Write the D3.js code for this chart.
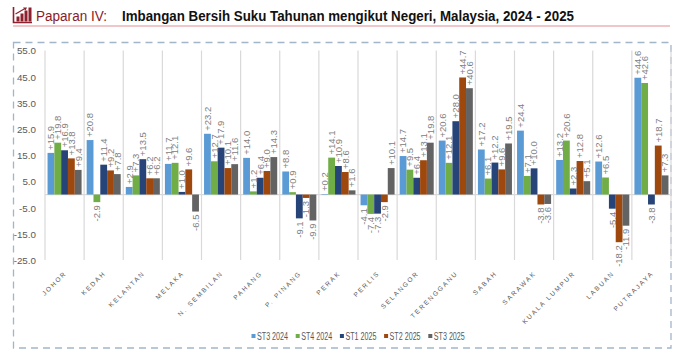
<!DOCTYPE html>
<html>
<head>
<meta charset="utf-8">
<script src="https://cdn.jsdelivr.net/npm/d3@7"></script>
<style>
  html, body { margin: 0; padding: 0; background: #ffffff; }
  svg { display: block; }
</style>
</head>
<body>
<svg id="chart" width="687" height="360"></svg>
<script>
// ---------- DATA ----------
const states = ["JOHOR","KEDAH","KELANTAN","MELAKA","N. SEMBILAN","PAHANG","P. PINANG","PERAK","PERLIS","SELANGOR","TERENGGANU","SABAH","SARAWAK","KUALA LUMPUR","LABUAN","PUTRAJAYA"];
const seriesNames = ["ST3 2024","ST4 2024","ST1 2025","ST2 2025","ST3 2025"];
const st3_2024 = [15.9, 20.8, 2.9, 11.7, 23.2, 14.0, 8.8, 0.2, -4.1, 14.7, 20.6, 17.2, 24.4, 13.2, 12.6, 44.6];
const st4_2024 = [19.8, -2.9, 7.3, 12.1, 12.7, 1.2, 0.9, 14.1, -7.4, 9.5, 12.1, 6.1, 7.1, 20.6, 6.5, 42.6];
const st1_2025 = [16.9, 11.4, 13.5, 1.0, 17.9, 6.4, -9.1, 10.9, -7.3, 6.4, 28.0, 12.2, 10.0, 2.3, -5.4, -3.8];
const st2_2025 = [13.8, 9.2, 6.2, 9.6, 10.1, 9.0, -1.3, 8.6, -2.9, 13.1, 44.7, 9.6, -3.8, 12.8, -18.2, 18.7];
const st3_2025 = [9.4, 7.8, 6.2, -6.5, 11.6, 14.3, -9.9, 1.6, 10.1, 19.8, 40.6, 19.5, -3.6, 5.1, -11.9, 7.3];
const yTicks = [55, 45, 35, 25, 15, 5, -5, -15, -25];
const titleLead = "Paparan IV:";
const titleMain = "Imbangan Bersih Suku Tahunan mengikut Negeri, Malaysia, 2024 - 2025";

const seriesValues = [st3_2024, st4_2024, st1_2025, st2_2025, st3_2025];
const colors = ["#5B9BD5", "#70AD47", "#264478", "#9E480E", "#636363"];

// ---------- LAYOUT ----------
const svg = d3.select("#chart");
const plot = { left: 45, right: 671, top: 50.5, bottom: 260 };

const x = d3.scaleBand().domain(states).range([plot.left, plot.right])
  .paddingInner(0.13).paddingOuter(0.065);
const xs = d3.scaleBand().domain(seriesNames).range([0, x.bandwidth()]).padding(0);
const y = d3.scaleLinear().domain([-25, 55]).range([plot.bottom, plot.top]);
const color = d3.scaleOrdinal().domain(seriesNames).range(colors);

// ---------- TITLE ----------
const icon = svg.append("g").attr("class", "icon");
const iconCol = "#8E1F2C";
icon.append("path").attr("d", "M13.5,7 V22.5 H32").attr("fill", "none").attr("stroke", iconCol).attr("stroke-width", 1.6);
[[16.5,5],[20.5,8],[24.5,11],[28.5,14]].forEach(([bx,h]) => {
  icon.append("rect").attr("x", bx).attr("y", 21.5 - h).attr("width", 3).attr("height", h).attr("fill", iconCol);
});
icon.append("path").attr("d", "M15.5,14 L25,8.5").attr("stroke", iconCol).attr("stroke-width", 1.2).attr("fill", "none");
icon.append("path").attr("d", "M23,7.5 L27,7.5 L25.5,10.5 Z").attr("fill", iconCol);

svg.append("text").attr("x", 36).attr("y", 20.8)
  .attr("font-family", "'Liberation Sans', Arial, sans-serif").attr("font-size", 14)
  .attr("fill", "#8B1A26").attr("textLength", 71).attr("lengthAdjust", "spacingAndGlyphs")
  .text(titleLead);
svg.append("text").attr("x", 122).attr("y", 20.8)
  .attr("font-family", "'Liberation Sans Narrow', 'Liberation Sans', Arial, sans-serif").attr("font-size", 14)
  .attr("font-weight", "bold")
  .attr("fill", "#111111").attr("textLength", 452).attr("lengthAdjust", "spacingAndGlyphs")
  .text(titleMain);
svg.append("line").attr("x1", 13).attr("x2", 670).attr("y1", 26).attr("y2", 26)
  .attr("stroke", "#F0C6C8").attr("stroke-width", 2);

// ---------- FRAME ----------
svg.append("rect").attr("x", 13.5).attr("y", 42.5).attr("width", 657.5).attr("height", 305.5)
  .attr("fill", "none").attr("stroke", "#A3B5C9").attr("stroke-width", 1.3)
  .attr("stroke-dasharray", "7,5");

// ---------- GRIDLINES (category boundaries) ----------
const step = x.step();
const boundaries = d3.range(states.length + 1).map(i => plot.left + i * step);
svg.append("g").selectAll("line").data(boundaries).join("line")
  .attr("x1", d => d).attr("x2", d => d)
  .attr("y1", plot.top).attr("y2", plot.bottom)
  .attr("stroke", "#D9D9D9").attr("stroke-width", 1.2);

// zero line
svg.append("line").attr("x1", plot.left).attr("x2", plot.right)
  .attr("y1", y(0)).attr("y2", y(0)).attr("stroke", "#D9D9D9").attr("stroke-width", 1.2);

// ---------- Y AXIS ----------
const yAxis = d3.axisLeft(y).tickValues(yTicks).tickSize(0).tickPadding(0)
  .tickFormat(d => d.toFixed(1));
const gy = svg.append("g").attr("transform", `translate(36,0)`).call(yAxis);
gy.select(".domain").remove();
gy.selectAll("text").attr("font-family", "'Liberation Sans', Arial, sans-serif")
  .attr("font-size", 9.8).attr("fill", "#595959").attr("dy", "0.35em");

// ---------- BARS ----------
const flat = [];
states.forEach((s, i) => {
  seriesNames.forEach((n, j) => flat.push({ state: s, series: n, value: seriesValues[j][i] }));
});

svg.append("g").selectAll("rect").data(flat).join("rect")
  .attr("x", d => x(d.state) + xs(d.series))
  .attr("width", xs.bandwidth())
  .attr("y", d => y(Math.max(0, d.value)))
  .attr("height", d => Math.abs(y(d.value) - y(0)))
  .attr("fill", d => color(d.series));

// ---------- DATA LABELS ----------
const fmt = v => (v > 0 ? "+" : "") + v.toFixed(1);
svg.append("g").selectAll("text").data(flat).join("text")
  .attr("transform", d => {
    const cx = x(d.state) + xs(d.series) + xs.bandwidth() / 2;
    const cy = d.value >= 0 ? y(d.value) - 3 : y(d.value) + 3;
    return `translate(${cx},${cy}) rotate(-90)`;
  })
  .attr("text-anchor", d => d.value >= 0 ? "start" : "end")
  .attr("dy", "0.35em")
  .attr("font-family", "'Liberation Sans', Arial, sans-serif")
  .attr("font-size", 9.5).attr("fill", "#808080")
  .text(d => fmt(d.value));

// ---------- CATEGORY LABELS ----------
svg.append("g").selectAll("text").data(states).join("text")
  .attr("transform", d => `translate(${x(d) + x.bandwidth() / 2 + 1},${plot.bottom + 12}) rotate(-45)`)
  .attr("text-anchor", "end")
  .attr("dy", "0.35em")
  .attr("font-family", "'Liberation Sans', Arial, sans-serif")
  .attr("font-size", 6.5).attr("letter-spacing", 1.8).attr("fill", "#595959")
  .text(d => d);

// ---------- LEGEND ----------
const legend = svg.append("g").attr("transform", "translate(251,336)");
const li = legend.selectAll("g").data(seriesNames).join("g")
  .attr("transform", (d, i) => `translate(${i * 44.2},0)`);
li.append("rect").attr("x", 0.5).attr("y", -2).attr("width", 4).attr("height", 4)
  .attr("fill", d => color(d));
li.append("text").attr("x", 6).attr("y", 0).attr("dy", "0.35em")
  .attr("font-family", "'Liberation Sans Narrow', 'Liberation Sans', Arial, sans-serif")
  .attr("font-size", 10).attr("fill", "#595959")
  .attr("textLength", 31).attr("lengthAdjust", "spacingAndGlyphs")
  .text(d => d);
</script>
</body>
</html>
